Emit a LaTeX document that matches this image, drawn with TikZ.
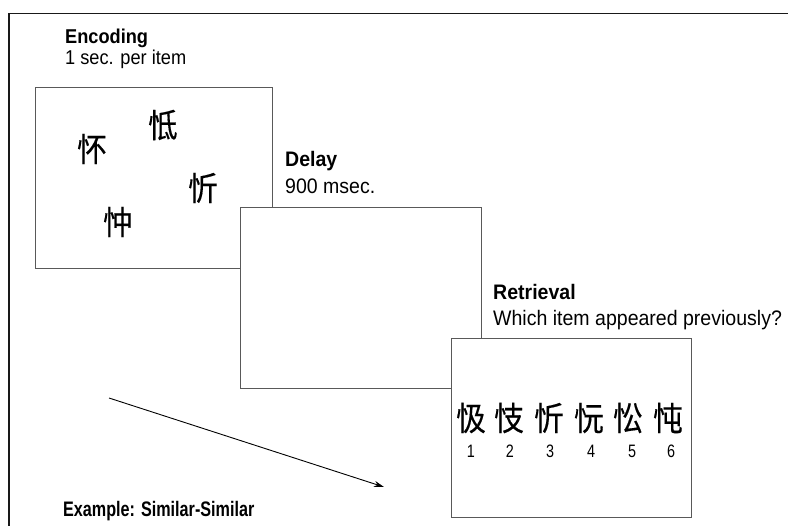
\documentclass[tikz,border=0pt]{standalone}
\usepackage{fontspec}
\setmainfont{Liberation Sans}
\newfontfamily\cjk[FakeBold=0.4]{Noto Sans CJK SC}
\usetikzlibrary{arrows.meta}
\tikzset{
  panel/.style={draw=black!65, line width=1.3pt, fill=white, inner sep=0pt, anchor=north west},
  lbl/.style={anchor=base west, inner sep=0pt, font=\fontsize{21}{24}\selectfont},
  lblsmall/.style={anchor=base west, inner sep=0pt, font=\fontsize{20}{23}\selectfont},
  hanzi/.style={inner sep=0pt, font=\cjk\fontsize{33}{36}\selectfont},
  num/.style={inner sep=0pt, font=\fontsize{18}{20}\selectfont},
}
\newcommand{\sq}[1]{\scalebox{0.9}[1]{#1}}
\newcommand{\sqa}[1]{\scalebox{0.93}[1]{#1}}
\newcommand{\sqb}[1]{\scalebox{0.91}[1]{#1}}
\begin{document}
\begin{tikzpicture}[x=1pt,y=-1pt]
\useasboundingbox (0,0) rectangle (788,526);
\fill[white] (0,0) rectangle (788,526);
% outer frame (partially visible)
\coordinate (fbl) at (9,526);
\coordinate (ftl) at (9,13.5);
\coordinate (ftr) at (788,13.5);
\draw[line width=1.6pt, black!90] (fbl) -- (ftl) -- (ftr);
% panels
\node[panel, minimum width=237pt, minimum height=181pt] (enc) at (35,87) {};
\node[panel, minimum width=241pt, minimum height=181pt] (del) at (240,207) {};
\node[panel, minimum width=240pt, minimum height=179pt] (ret) at (451,338) {};
% labels
\node[lblsmall] (encT) at (65,44) {\sqb{\textbf{Encoding}}};
\node[lblsmall] (encS) at (65,65) {\sqb{1 sec. per item}};
\node[lbl] (delT) at (285,167) {\sqa{\textbf{Delay}}};
\node[lbl] (delS) at (285,194) {\sqa{900 msec.}};
\node[lbl] (retT) at (493,300) {\sqa{\textbf{Retrieval}}};
\node[lbl] (retS) at (493,326) {\sqa{Which item appeared previously?}};
\node[anchor=base west, inner sep=0pt, font=\fontsize{21}{24}\selectfont\bfseries] (ex) at (63,517) {\scalebox{0.77}[1]{Example: Similar-Similar}};
% encoding items
\node[hanzi] (e1) at (92,149) {\sq{怀}};
\node[hanzi] (e2) at (163,125) {\sq{怟}};
\node[hanzi] (e3) at (203,188) {\sq{忻}};
\node[hanzi] (e4) at (118,222) {\sq{忡}};
% retrieval items
\node[hanzi] (r1) at (471,418) {\sq{忣}};
\node[hanzi] (r2) at (509,418) {\sq{忮}};
\node[hanzi] (r3) at (549,418) {\sq{忻}};
\node[hanzi] (r4) at (589,418) {\sq{忨}};
\node[hanzi] (r5) at (628,418) {\sq{忪}};
\node[hanzi] (r6) at (668,418) {\sq{忳}};
\node[num] (n1) at (471,451) {\scalebox{0.8}[1]{1}};
\node[num] (n2) at (510,451) {\scalebox{0.8}[1]{2}};
\node[num] (n3) at (550,451) {\scalebox{0.8}[1]{3}};
\node[num] (n4) at (591,451) {\scalebox{0.8}[1]{4}};
\node[num] (n5) at (632,451) {\scalebox{0.8}[1]{5}};
\node[num] (n6) at (671,451) {\scalebox{0.8}[1]{6}};
% time arrow
\coordinate (t0) at (109,398);
\coordinate (t1) at (384,487);
\draw[line width=0.9pt, -{Stealth[length=10pt,width=6pt]}] (t0) -- (t1);
\end{tikzpicture}
\end{document}
